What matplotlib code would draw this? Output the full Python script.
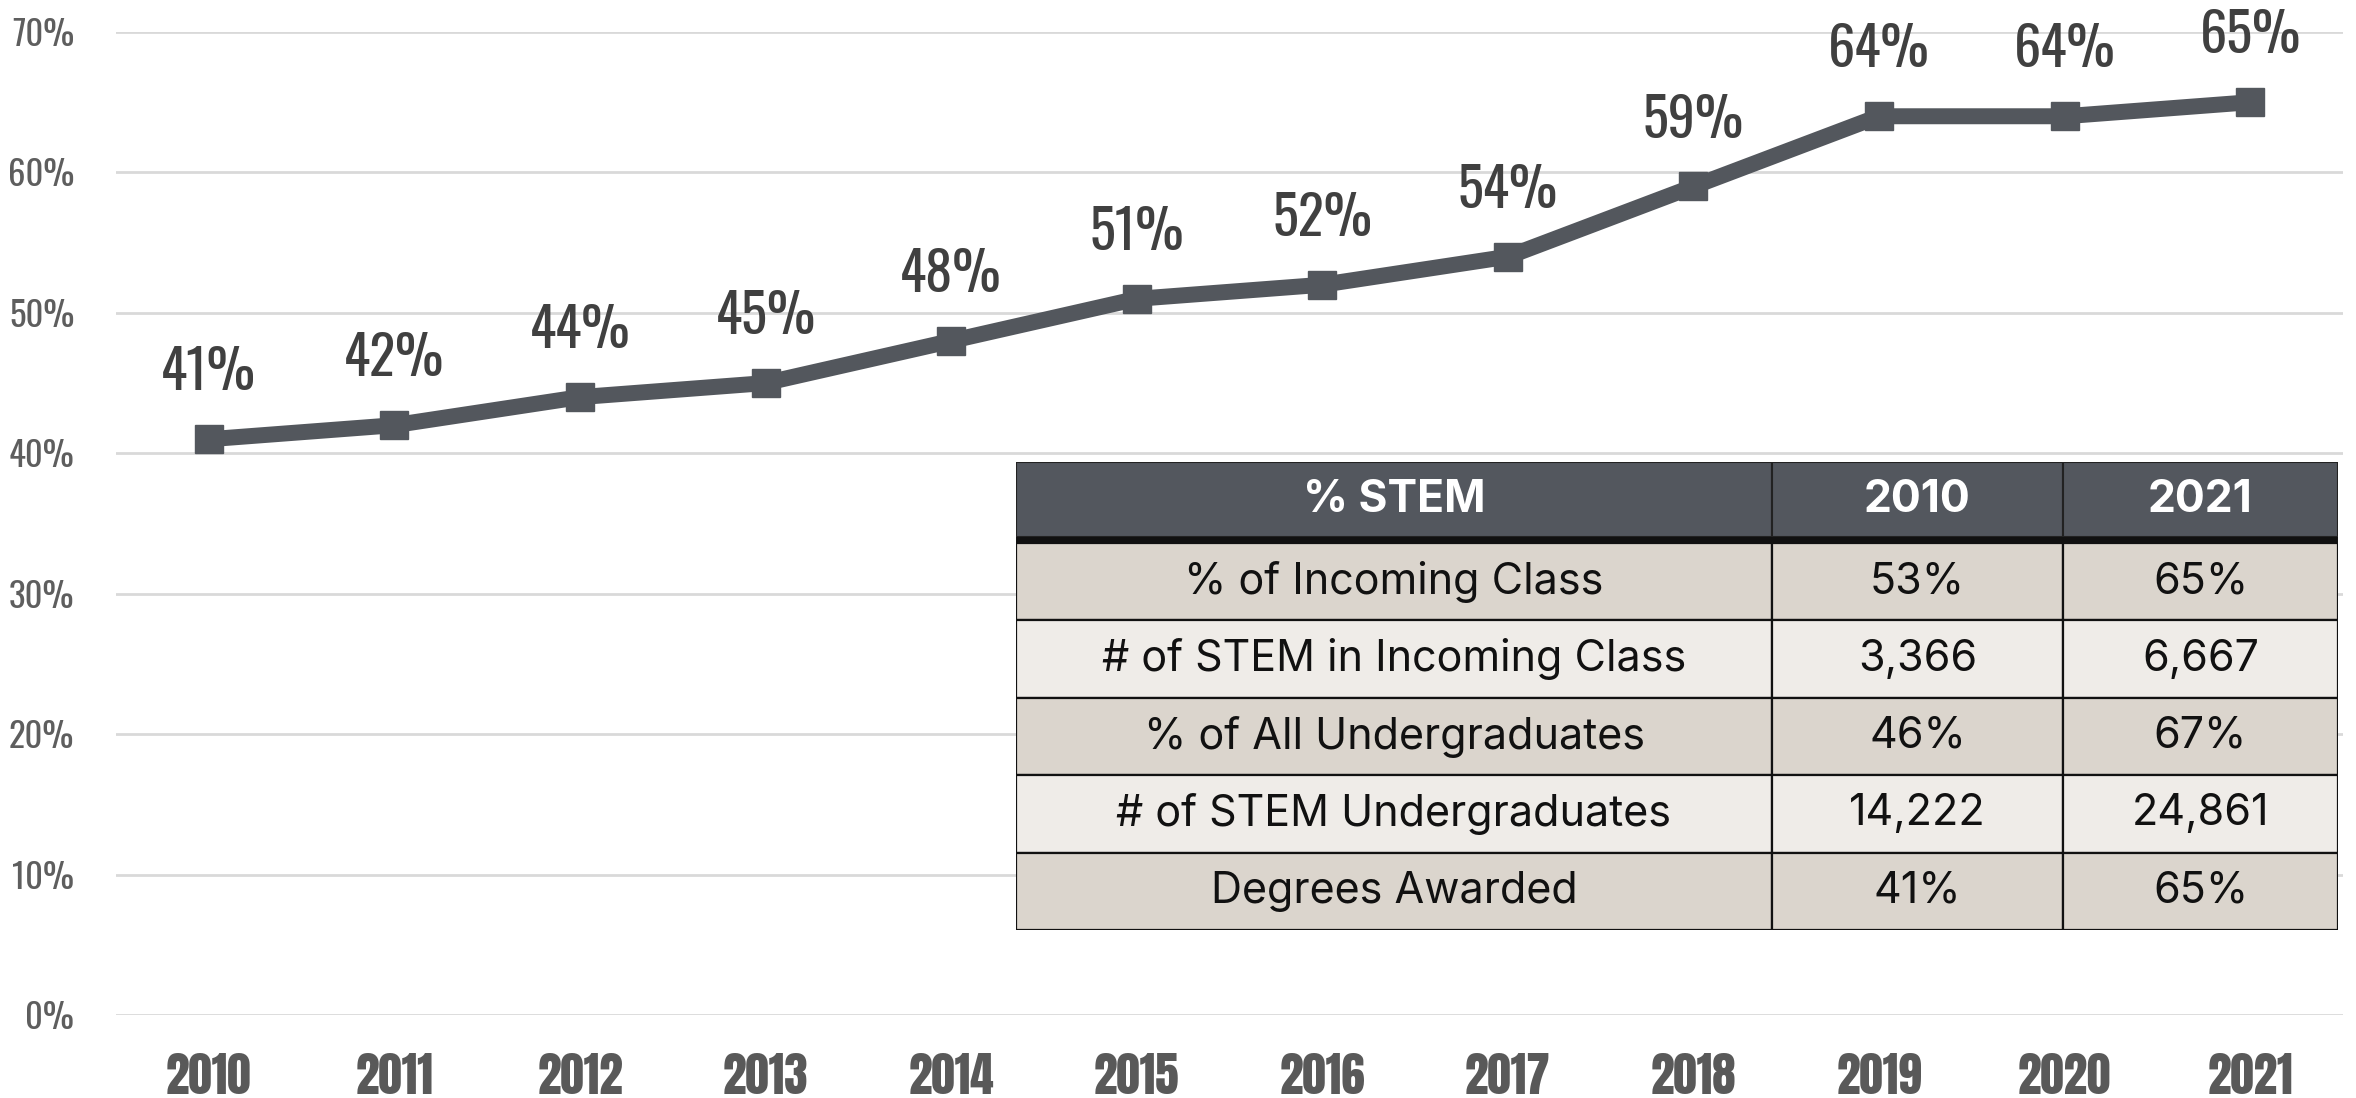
import matplotlib
matplotlib.use("Agg")
import matplotlib.pyplot as plt
from matplotlib import font_manager as fm
from matplotlib.patches import Rectangle

# ---------------- data ----------------
years = ["2010", "2011", "2012", "2013", "2014", "2015",
         "2016", "2017", "2018", "2019", "2020", "2021"]
stem_pct = [41, 42, 44, 45, 48, 51, 52, 54, 59, 64, 64, 65]
y_ticks = [0, 10, 20, 30, 40, 50, 60, 70]

table_header = ["% STEM", "2010", "2021"]
table_rows = ["% of Incoming Class", "# of STEM in Incoming Class",
              "% of All Undergraduates", "# of STEM Undergraduates",
              "Degrees Awarded"]
table_2010 = ["53%", "3,366", "46%", "14,222", "41%"]
table_2021 = ["65%", "6,667", "67%", "24,861", "65%"]

# ---------------- fonts ----------------
installed = {f.name for f in fm.fontManager.ttflist}


def pick(cands):
    for c in cands:
        if c in installed:
            return c
    return "DejaVu Sans"


cond = pick(["Oswald", "Roboto Condensed", "Encode Sans Condensed",
             "Open Sans Condensed", "Archivo Narrow", "Liberation Sans Narrow",
             "DejaVu Sans Condensed", "DejaVu Sans"])
heavy = pick(["Anton", "Oswald", "Bebas Neue", "Roboto Condensed",
              "Encode Sans Condensed", "Liberation Sans Narrow", "DejaVu Sans"])
table_font = pick(["Inter", "Liberation Sans", "DejaVu Sans"])

# ---------------- figure ----------------
W, H = 2356, 1098
fig = plt.figure(figsize=(W / 100, H / 100), dpi=100)
ax = fig.add_axes([116 / W, 1 - 1015 / H, (2343 - 116) / W, (1015 - 32) / H])

x = list(range(len(years)))
line_col = "#53575d"
ax.plot(x, stem_pct, color=line_col, lw=11.5, marker="s", ms=19.5,
        solid_joinstyle="miter", zorder=3, clip_on=False)

ax.set_xlim(-0.5, len(years) - 0.5)
ax.set_ylim(0, 70)
ax.set_yticks(y_ticks)
ax.set_yticklabels([f"{v}%" for v in y_ticks], fontfamily=cond,
                   fontweight=200, fontsize=25, color="#5e5e5e")
ax.set_xticks(x)
ax.set_xticklabels(years, fontfamily=heavy, fontweight="bold",
                   fontsize=34, color="#595959")
ax.tick_params(axis="y", length=0, pad=30)
ax.tick_params(axis="x", length=0, pad=27)
ax.grid(axis="y", color="#d9d9d9", lw=2)
ax.set_axisbelow(True)
for s in ax.spines.values():
    s.set_visible(False)

for xi, v in zip(x, stem_pct):
    ax.annotate(f"{v}%", (xi, v), xytext=(0, 28), textcoords="offset points",
                ha="center", va="bottom", fontfamily=cond, fontweight="semibold",
                fontsize=39, color="#404040", zorder=4)

# ---------------- table ----------------
tl, tr, tt, tb = 1016, 2338, 462, 930
tax = fig.add_axes([tl / W, 1 - tb / H, (tr - tl) / W, (tb - tt) / H])
tax.set_xlim(0, tr - tl)
tax.set_ylim(tb - tt, 0)
tax.axis("off")

col_edges = [0, 1772 - tl, 2063 - tl, tr - tl]
header_h = 75
sep_h = 6
row_top = header_h + sep_h
row_h = (tb - tt - row_top) / len(table_rows)

hdr_col = "#53575e"
for c in range(3):
    tax.add_patch(Rectangle((col_edges[c], 0), col_edges[c + 1] - col_edges[c],
                            header_h, facecolor=hdr_col, edgecolor="#222222",
                            lw=1.5))
    tax.text((col_edges[c] + col_edges[c + 1]) / 2, header_h / 2,
             table_header[c], ha="center", va="center", color="white",
             fontfamily=table_font, fontweight="bold", fontsize=32)
tax.add_patch(Rectangle((0, header_h), col_edges[-1], sep_h,
                        facecolor="#111111", edgecolor="none"))

row_cols = ["#dbd5cd", "#efece8"]
for r in range(len(table_rows)):
    y0 = row_top + r * row_h
    vals = [table_rows[r], table_2010[r], table_2021[r]]
    for c in range(3):
        tax.add_patch(Rectangle((col_edges[c], y0), col_edges[c + 1] - col_edges[c],
                                row_h, facecolor=row_cols[r % 2],
                                edgecolor="#111111", lw=1.6))
        tax.text((col_edges[c] + col_edges[c + 1]) / 2, y0 + row_h / 2,
                 vals[c], ha="center", va="center", color="#111111",
                 fontfamily=table_font, fontsize=31)

fig.savefig("out.png", dpi=100)
